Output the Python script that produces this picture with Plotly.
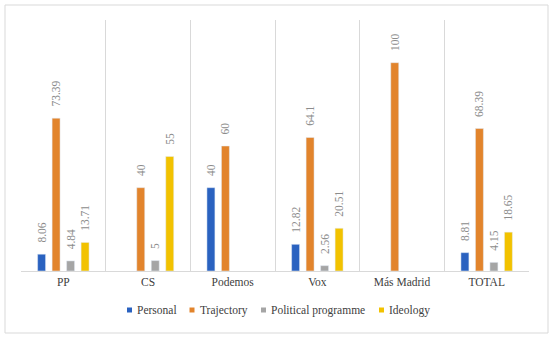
import plotly.graph_objects as go

categories = ["PP", "CS", "Podemos", "Vox", "Más Madrid", "TOTAL"]
personal = [8.06, None, 40, 12.82, None, 8.81]
trajectory = [73.39, 40, 60, 64.1, 100, 68.39]
political = [4.84, 5, None, 2.56, None, 4.15]
ideology = [13.71, 55, None, 20.51, None, 18.65]
legend_names = ["Personal", "Trajectory", "Political programme", "Ideology"]
colors = ["#2A62C0", "#E2842C", "#A5A5A5", "#F2C200"]

SERIF = "Liberation Serif, Times New Roman, serif"
L, R, T, B, W, H = 21, 21, 20, 66, 550, 337
PW, PH = W - L - R, H - T - B

def px_x(px):
    return (px - L) / PW

def px_y(py):
    return (H - B - py) / PH

fig = go.Figure()
for name, vals, col in zip(legend_names, [personal, trajectory, political, ideology], colors):
    fig.add_trace(go.Bar(
        name=name, x=categories, y=vals, marker_color=col,
        text=[("" if v is None else "\u00a0\u00a0\u00a0" + f"{v:g}") for v in vals],
        textposition="outside", textangle=-90, constraintext="none",
        textfont=dict(family=SERIF, size=11.5, color="#8c8c8c"),
        cliponaxis=False, showlegend=False, hoverinfo="skip",
    ))

# legend drawn as small squares + labels
legend_sq_x = [127, 189.5, 261, 379]
shapes = [dict(type="rect", xref="paper", yref="paper",
               x0=px_x(5), x1=px_x(548), y0=px_y(333), y1=px_y(5),
               line=dict(color="#d9d9d9", width=1), fillcolor="rgba(0,0,0,0)", layer="below")]
annotations = []
for name, col, sx in zip(legend_names, colors, legend_sq_x):
    shapes.append(dict(type="rect", xref="paper", yref="paper",
                       x0=px_x(sx), x1=px_x(sx + 5), y0=px_y(312.5), y1=px_y(307.5),
                       line=dict(width=0), fillcolor=col))
    annotations.append(dict(text=name, xref="paper", yref="paper", x=px_x(sx + 8), y=px_y(310),
                            xanchor="left", yanchor="middle", showarrow=False,
                            font=dict(family=SERIF, size=11.5, color="#404040")))

fig.update_layout(
    width=W, height=H,
    margin=dict(l=L, r=R, t=T, b=B),
    paper_bgcolor="white", plot_bgcolor="white",
    barmode="group", bargap=0.315, bargroupgap=0.45,
    font=dict(family=SERIF, color="#404040"),
    showlegend=False,
    xaxis=dict(tickson="boundaries", showgrid=True, gridcolor="#d9d9d9", gridwidth=1,
               showline=True, linecolor="#d9d9d9", ticks="",
               tickfont=dict(family=SERIF, size=11.5, color="#404040"),
               range=[-0.5, 5.5]),
    yaxis=dict(range=[0, 120.5], showgrid=False, showticklabels=False, zeroline=False,
               showline=False),
    shapes=shapes,
    annotations=annotations,
)

fig.write_html("out.html", config={"displayModeBar": False},
               post_script="document.body.style.margin='0';document.body.style.padding='0';")
